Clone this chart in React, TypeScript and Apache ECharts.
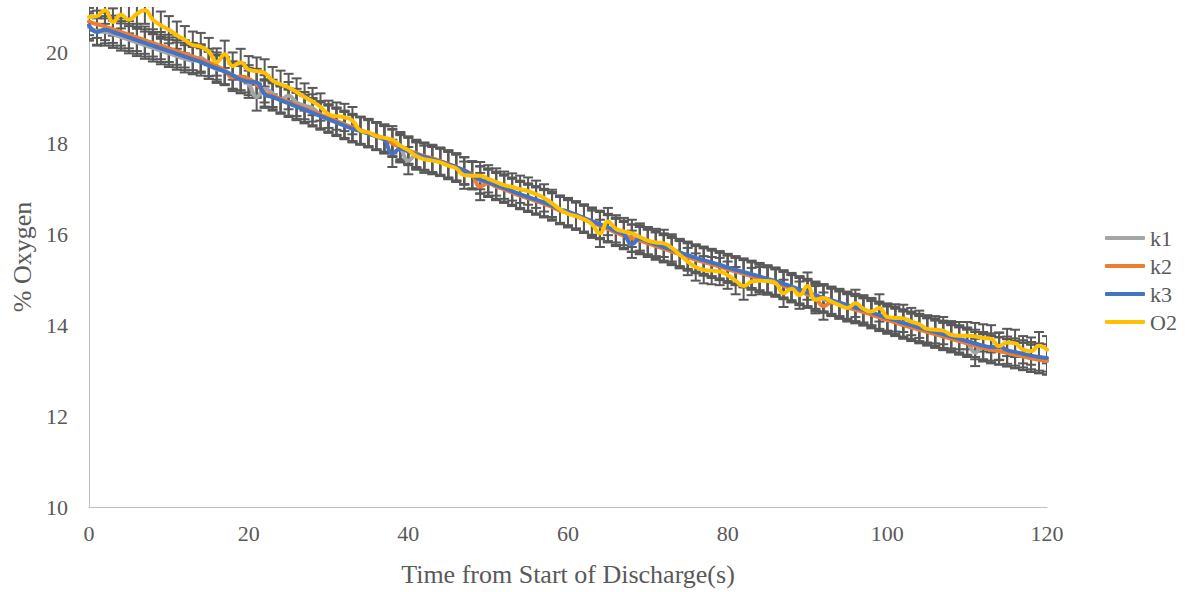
import React, { useEffect, useRef } from "react";
import * as echarts from "echarts";

const TIME: number[] = Array.from({ length: 121 }, (_, i) => i);

const K1: number[] = [
  20.56, 20.47, 20.45, 20.40, 20.34, 20.28, 20.22, 20.16, 20.10, 20.04,
  19.98, 19.92, 19.86, 19.82, 19.88, 19.72, 19.63, 19.60, 19.50, 19.42,
  19.30, 19.02, 19.20, 19.10, 18.97, 19.05, 18.90, 18.83, 18.78, 18.62,
  18.55, 18.48, 18.41, 18.34, 18.28, 18.22, 18.16, 18.08, 18.02, 17.90,
  17.62, 17.74, 17.70, 17.65, 17.59, 17.53, 17.47, 17.39, 17.29, 17.19,
  17.13, 17.06, 17.00, 16.93, 16.86, 16.80, 16.74, 16.68, 16.61, 16.54,
  16.48, 16.41, 16.34, 16.27, 16.20, 16.13, 16.05, 15.98, 15.92, 15.87,
  15.81, 15.75, 15.69, 15.63, 15.57, 15.51, 15.45, 15.40, 15.35, 15.30,
  15.24, 15.19, 15.14, 15.09, 15.04, 14.99, 14.94, 14.88, 14.82, 14.75,
  14.69, 14.63, 14.57, 14.52, 14.47, 14.41, 14.36, 14.31, 14.25, 14.19,
  14.13, 14.08, 14.02, 13.97, 13.92, 13.87, 13.82, 13.77, 13.72, 13.67,
  13.62, 13.40, 13.52, 13.48, 13.44, 13.40, 13.36, 13.32, 13.28, 13.25,
  13.22,
];

const K2: number[] = [
  20.68, 20.62, 20.57, 20.51, 20.45, 20.39, 20.33, 20.27, 20.21, 20.15,
  20.09, 20.03, 19.97, 19.91, 19.85, 19.78, 19.70, 19.60, 19.45, 19.47,
  19.42, 19.30, 19.11, 19.05, 18.98, 18.91, 18.84, 18.77, 18.70, 18.63,
  18.56, 18.49, 18.42, 18.35, 18.29, 18.23, 18.17, 18.10, 18.00, 17.92,
  17.85, 17.78, 17.72, 17.67, 17.61, 17.55, 17.48, 17.40, 17.31, 17.05,
  17.12, 17.05, 16.99, 16.92, 16.85, 16.79, 16.73, 16.67, 16.60, 16.52,
  16.47, 16.40, 16.33, 16.26, 16.19, 16.12, 16.04, 15.97, 15.91, 15.86,
  15.80, 15.74, 15.68, 15.62, 15.56, 15.50, 15.44, 15.39, 15.34, 15.29,
  15.23, 15.18, 15.13, 15.08, 15.03, 14.98, 14.93, 14.87, 14.81, 14.74,
  14.68, 14.60, 14.42, 14.50, 14.45, 14.39, 14.34, 14.29, 14.23, 14.17,
  14.11, 14.06, 14.00, 13.95, 13.90, 13.85, 13.80, 13.75, 13.70, 13.65,
  13.60, 13.55, 13.50, 13.46, 13.43, 13.39, 13.35, 13.31, 13.27, 13.24,
  13.21,
];

const K3: number[] = [
  20.60, 20.45, 20.50, 20.45, 20.39, 20.33, 20.27, 20.21, 20.15, 20.09,
  20.03, 19.97, 19.91, 19.85, 19.79, 19.72, 19.65, 19.58, 19.50, 19.40,
  19.36, 19.34, 19.08, 19.02, 18.95, 18.88, 18.81, 18.74, 18.67, 18.60,
  18.53, 18.46, 18.39, 18.32, 18.27, 18.21, 18.15, 18.08, 17.78, 17.88,
  17.82, 17.76, 17.70, 17.65, 17.60, 17.54, 17.48, 17.40, 17.30, 17.20,
  17.15, 17.08, 17.02, 16.95, 16.88, 16.82, 16.76, 16.70, 16.63, 16.55,
  16.50, 16.43, 16.36, 16.29, 16.22, 16.15, 16.07, 16.00, 15.78, 15.90,
  15.84, 15.78, 15.72, 15.66, 15.60, 15.54, 15.48, 15.43, 15.38, 15.33,
  15.27, 15.22, 15.17, 15.12, 15.07, 15.02, 14.97, 14.91, 14.85, 14.78,
  14.72, 14.66, 14.60, 14.55, 14.50, 14.44, 14.39, 14.34, 14.28, 14.22,
  14.16, 14.11, 14.05, 14.00, 13.95, 13.90, 13.85, 13.80, 13.75, 13.70,
  13.65, 13.60, 13.55, 13.52, 13.53, 13.45, 13.41, 13.37, 13.33, 13.30,
  13.28,
];

const O2: number[] = [
  20.78, 20.80, 20.93, 20.67, 20.83, 20.72, 20.85, 20.93, 20.72, 20.60,
  20.50, 20.38, 20.28, 20.16, 20.13, 20.02, 19.79, 19.96, 19.70, 19.78,
  19.62, 19.59, 19.55, 19.38, 19.30, 19.23, 19.13, 19.02, 18.92, 18.80,
  18.64, 18.60, 18.57, 18.50, 18.28, 18.24, 18.16, 18.12, 18.08, 17.95,
  17.85, 17.72, 17.65, 17.62, 17.58, 17.51, 17.45, 17.30, 17.29, 17.29,
  17.22, 17.15, 17.08, 17.04, 16.99, 16.95, 16.88, 16.80, 16.68, 16.55,
  16.45, 16.40, 16.33, 16.22, 16.02, 16.28, 16.12, 16.06, 16.02, 15.94,
  15.86, 15.82, 15.80, 15.70, 15.55, 15.40, 15.28, 15.22, 15.20, 15.18,
  15.10, 14.98, 14.86, 14.96, 14.98, 14.97, 14.93, 14.70, 14.80, 14.66,
  14.86, 14.56, 14.60, 14.52, 14.44, 14.38, 14.48, 14.36, 14.30, 14.38,
  14.18, 14.16, 14.15, 14.08, 14.02, 13.92, 13.90, 13.88, 13.79, 13.77,
  13.77, 13.75, 13.72, 13.70, 13.54, 13.62, 13.60, 13.46, 13.43, 13.55,
  13.46,
];

const SERIES_NAMES: string[] = ["k1", "k2", "k3", "O2"];
const SERIES_VALUES: number[][] = [K1, K2, K3, O2];
const ERRORS: number[] = [0.3, 0.3, 0.3, 0.3];
const COLORS: string[] = ["#A5A5A5", "#ED7D31", "#4472C4", "#FFC000"];

const FONT = "'Liberation Serif', 'Times New Roman', serif";
const TEXT_COLOR = "#595959";

export default function App() {
  const ref = useRef<HTMLDivElement>(null);

  useEffect(() => {
    if (!ref.current) return;
    const chart = echarts.init(ref.current, null, { renderer: "svg" });

    const errSeries = SERIES_VALUES.map((vals, si) => ({
      type: "custom",
      name: SERIES_NAMES[si] + " error",
      clip: true,
      z: 1,
      silent: true,
      encode: { x: 0, y: 1 },
      data: vals.map((v, i) => [TIME[i], v, ERRORS[si]]),
      renderItem: (params: any, api: any) => {
        const x = api.value(0);
        const y = api.value(1);
        const e = api.value(2);
        const hi = api.coord([x, y + e]);
        const lo = api.coord([x, y - e]);
        const hw = 5;
        const style = { stroke: "#595959", lineWidth: 2 };
        return {
          type: "group",
          children: [
            { type: "line", shape: { x1: hi[0], y1: hi[1], x2: lo[0], y2: lo[1] }, style },
            { type: "line", shape: { x1: hi[0] - hw, y1: hi[1], x2: hi[0] + hw, y2: hi[1] }, style },
            { type: "line", shape: { x1: lo[0] - hw, y1: lo[1], x2: lo[0] + hw, y2: lo[1] }, style },
          ],
        };
      },
    }));

    const lineSeries = SERIES_VALUES.map((vals, si) => ({
      type: "line",
      name: SERIES_NAMES[si],
      data: vals.map((v, i) => [TIME[i], v]),
      smooth: 0.5,
      symbol: "none",
      z: 3,
      lineStyle: { color: COLORS[si], width: 4, cap: "round", join: "round" },
      itemStyle: { color: COLORS[si] },
    }));

    chart.setOption({
      animation: false,
      backgroundColor: "#FFFFFF",
      textStyle: { fontFamily: FONT },
      grid: { left: 89, top: 7, width: 958, height: 503, containLabel: false },
      legend: {
        data: SERIES_NAMES.map((n) => ({ name: n, icon: "roundRect" })),
        orient: "vertical",
        left: 1105,
        top: 227,
        padding: 0,
        itemWidth: 40,
        itemHeight: 4,
        itemGap: 6,
        textStyle: { fontFamily: FONT, fontSize: 22, color: TEXT_COLOR, padding: [0, 0, 0, 0] },
      },
      xAxis: {
        type: "value",
        min: 0,
        max: 120,
        interval: 20,
        name: "Time from Start of Discharge(s)",
        nameLocation: "middle",
        nameGap: 54,
        nameTextStyle: { fontFamily: FONT, fontSize: 26, color: TEXT_COLOR },
        axisLine: { show: true, lineStyle: { color: "#BFBFBF", width: 1 } },
        axisTick: { show: false },
        splitLine: { show: false },
        axisLabel: { fontFamily: FONT, fontSize: 22, color: TEXT_COLOR, margin: 15 },
      },
      yAxis: {
        type: "value",
        min: 10,
        max: 21,
        interval: 2,
        name: "% Oxygen",
        nameLocation: "middle",
        nameGap: 52,
        nameTextStyle: { fontFamily: FONT, fontSize: 26, color: TEXT_COLOR },
        axisLine: { show: true, lineStyle: { color: "#BFBFBF", width: 1 } },
        axisTick: { show: false },
        splitLine: { show: false },
        axisLabel: {
          fontFamily: FONT,
          fontSize: 22,
          color: TEXT_COLOR,
          margin: 21,
          showMaxLabel: false,
        },
      },
      series: [...errSeries, ...lineSeries],
    });

    return () => chart.dispose();
  }, []);

  return (
    <div
      ref={ref}
      style={{ position: "absolute", left: 0, top: 0, width: 1199, height: 592 }}
    />
  );
}
